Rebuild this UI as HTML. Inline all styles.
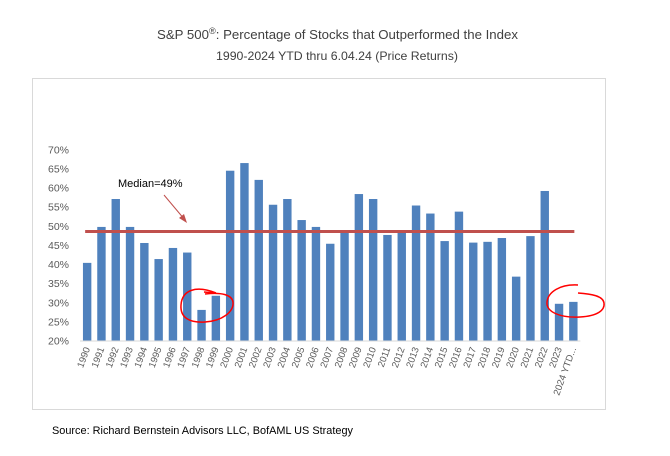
<!DOCTYPE html>
<html><head><meta charset="utf-8"><style>
body{margin:0;background:#fff;width:670px;height:456px;overflow:hidden;font-family:"Liberation Sans",sans-serif}
svg{position:absolute;left:0;top:0}
</style></head><body>
<svg width="670" height="456">
<text x="157" y="39" font-size="13" fill="#404040" textLength="361" lengthAdjust="spacingAndGlyphs">S&amp;P 500<tspan font-size="9" dy="-5">®</tspan><tspan dy="5">:  Percentage of Stocks that Outperformed the Index</tspan></text>
<text x="216" y="60" font-size="12" fill="#404040" textLength="242" lengthAdjust="spacingAndGlyphs">1990-2024 YTD thru 6.04.24  (Price Returns)</text>
<rect x="32.5" y="78.5" width="573" height="331" fill="#fff" stroke="#d9d9d9"/>
<g id="yaxis"></g>
<g id="bars"></g>
<g id="xaxis"></g>
<g id="median"></g>
<text x="118" y="187" font-size="11" fill="#000">Median=49%</text>
<line x1="164" y1="195" x2="185" y2="220" stroke="#c0504d" stroke-width="1"/>
<polygon points="187,223 179,218 184,214" fill="#c0504d"/>
<path d="M216,293 C196,285 182,290 181,305 C180,318 190,323 205,322 C222,321 234,312 233,302 C232,295 222,292 205,294 M204,292 L215,293" fill="none" stroke="#ff0000" stroke-width="1.5"/>
<path d="M578,285 C560,284 548,292 547,302 C546,312 560,318 580,317 C598,316 605,310 604,303 C603,296 592,294 578,293" fill="none" stroke="#ff0000" stroke-width="1.5"/>
<text x="52" y="434" font-size="11" fill="#000" textLength="301" lengthAdjust="spacingAndGlyphs">Source: Richard Bernstein Advisors LLC, BofAML US Strategy</text>
</svg>
<script>
const categories=["1990","1991","1992","1993","1994","1995","1996","1997","1998","1999","2000","2001","2002","2003","2004","2005","2006","2007","2008","2009","2010","2011","2012","2013","2014","2015","2016","2017","2018","2019","2020","2021","2022","2023","2024 YTD..."];
const values=[40.3,49.7,57,49.7,45.5,41.3,44.2,43,28,31.7,64.4,66.4,62,55.5,57,51.5,49.7,45.3,48.4,58.3,57,47.6,48.2,55.3,53.2,46,53.7,45.6,45.8,46.8,36.7,47.3,59.1,29.6,30.1];
const yTicks=[20,25,30,35,40,45,50,55,60,65,70];
const median=[48.5];
const NS="http://www.w3.org/2000/svg";
const y0=340.5,y1=149.3,vmin=20,vmax=70;
const yS=v=>y0-(v-vmin)/(vmax-vmin)*(y0-y1);
const xL=80,step=14.3;
const xS=i=>xL+step*(i+0.5);
function mk(t,a){const e=document.createElementNS(NS,t);for(const k in a)e.setAttribute(k,a[k]);return e;}
const ya=document.getElementById('yaxis');
yTicks.forEach(t=>{const e=mk('text',{x:69,y:yS(t)+4,'text-anchor':'end','font-size':10.5,fill:'#595959'});


e.textContent=t+'%';ya.appendChild(e);});
const bg=document.getElementById('bars'),xa=document.getElementById('xaxis');
values.forEach((v,i)=>{const r=mk('rect',{x:xS(i)-4.2,y:yS(v),width:8.4,height:y0-yS(v),fill:'#4f81bd'});


bg.appendChild(r);
const t=mk('text',{transform:`translate(${xS(i)+3},${y0+8}) rotate(-70)`,'text-anchor':'end','font-size':9.5,fill:'#595959'});


t.textContent=categories[i];xa.appendChild(t);});
const base=mk('line',{x1:xL,x2:xS(values.length-1)+7,y1:y0+0.5,y2:y0+0.5,stroke:'#d9d9d9'});


xa.appendChild(base);
const ml=mk('line',{x1:xS(0)-2,x2:xS(values.length-1)+1,y1:yS(median[0]),y2:yS(median[0]),stroke:'#c0504d','stroke-width':3});


document.getElementById('median').appendChild(ml);
</script>
</body></html>
